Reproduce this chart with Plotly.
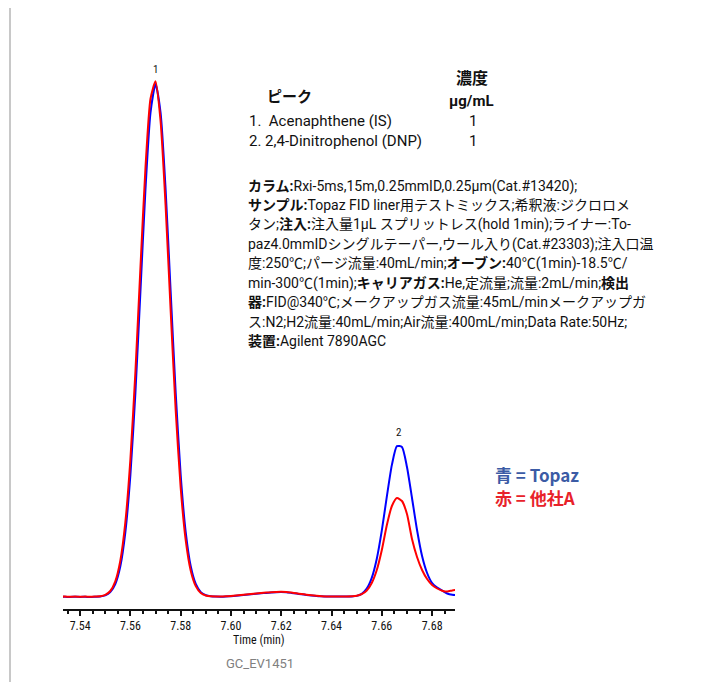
import plotly.graph_objects as go

# ---------------- data ----------------
time_min = [
    7.532, 7.534, 7.536, 7.538, 7.540, 7.542, 7.544, 7.546, 7.548, 7.550,
    7.552, 7.554, 7.556, 7.558, 7.560, 7.562, 7.564, 7.566, 7.568, 7.570,
    7.572, 7.574, 7.576, 7.578, 7.580, 7.582, 7.584, 7.586, 7.588, 7.590,
    7.592, 7.594, 7.596, 7.598, 7.600, 7.602, 7.604, 7.606, 7.608, 7.610,
    7.612, 7.614, 7.616, 7.618, 7.620, 7.622, 7.624, 7.626, 7.628, 7.630,
    7.632, 7.634, 7.636, 7.638, 7.640, 7.642, 7.644, 7.646, 7.648, 7.650,
    7.652, 7.654, 7.656, 7.658, 7.660, 7.662, 7.664, 7.666, 7.668, 7.670,
    7.672, 7.674, 7.676, 7.678, 7.680, 7.682, 7.684, 7.686, 7.688, 7.690,
]
topaz_signal = [
    0.1, 0.2, 0.0, 0.3, 0.1, 0.2, 0.0, 0.3, 0.6, 1.6,
    4.9, 13.0, 30.7, 64.9, 122.0, 204.6, 305.9, 407.7, 484.3, 513.0,
    484.3, 407.7, 305.9, 204.6, 122.0, 64.9, 30.7, 13.0, 4.9, 1.8,
    0.7, 0.4, 0.3, 0.5, 0.8, 1.2, 1.7, 2.2, 2.7, 3.2,
    3.7, 4.1, 4.5, 4.8, 4.9, 4.7, 4.1, 3.4, 2.7, 2.1,
    1.5, 1.0, 0.7, 0.5, 0.4, 0.4, 0.5, 0.4, 0.5, 1.1,
    3.2, 8.4, 19.2, 38.3, 66.6, 100.6, 132.1, 150.8, 150.0, 130.0,
    99.0, 67.0, 41.0, 24.0, 14.0, 9.5, 6.5, 3.5, 2.2, 1.8,
]
other_signal = [
    0.3, 0.4, 0.2, 0.5, 0.2, 0.4, 0.3, 0.5, 0.8, 2.1,
    6.0, 15.7, 36.3, 74.8, 137.6, 225.5, 329.5, 429.2, 498.3, 515.8,
    476.0, 391.5, 287.1, 187.6, 109.3, 56.8, 26.3, 10.9, 4.0, 1.5,
    0.7, 0.5, 0.5, 0.7, 1.0, 1.4, 1.9, 2.5, 3.0, 3.5,
    4.0, 4.4, 4.8, 5.1, 5.2, 5.0, 4.4, 3.7, 3.0, 2.3,
    1.7, 1.2, 0.8, 0.6, 0.5, 0.5, 0.6, 0.6, 0.8, 1.2,
    2.8, 6.5, 14.0, 27.0, 47.0, 72.0, 91.0, 99.0, 96.0, 83.0,
    58.0, 40.0, 27.0, 18.0, 12.0, 8.5, 6.3, 5.4, 6.6, 7.4,
]
tick_vals = [7.54, 7.56, 7.58, 7.60, 7.62, 7.64, 7.66, 7.68]
tick_text = ["7.54", "7.56", "7.58", "7.60", "7.62", "7.64", "7.66", "7.68"]
peak_labels = ["1", "2"]
peak_times = [7.5698, 7.6667]
peak_heights = [516, 153]

compounds = ["1.  Acenaphthene (IS)", "2. 2,4-Dinitrophenol (DNP)"]
concs = ["1", "1"]

cond_lines = [
    "<b>カラム:</b>Rxi-5ms,15m,0.25mmID,0.25μm(Cat.#13420);",
    "<b>サンプル:</b>Topaz FID liner用テストミックス;希釈液:ジクロロメ",
    "タン;<b>注入:</b>注入量1μL スプリットレス(hold 1min);ライナー:To-",
    "paz4.0mmIDシングルテーパー,ウール入り(Cat.#23303);注入口温",
    "度:250℃;パージ流量:40mL/min;<b>オーブン:</b>40℃(1min)-18.5℃/",
    "min-300℃(1min);<b>キャリアガス:</b>He,定流量;流量:2mL/min;<b>検出</b>",
    "<b>器:</b>FID@340℃;メークアップガス流量:45mL/minメークアップガ",
    "ス:N2;H2流量:40mL/min;Air流量:400mL/min;Data Rate:50Hz;",
    "<b>装置:</b>Agilent 7890AGC",
]

# ---------------- layout geometry ----------------
OFF = 8                      # page body margin of the html page
W, H = 704 - OFF, 682 - OFF
L, R, T, B = 63, 455, 60, 609  # plot area in window pixels
NARROW = "Roboto Condensed, Liberation Sans Narrow, Roboto, Noto Sans CJK JP, sans-serif"
TEXT = "Roboto, Noto Sans CJK JP, sans-serif"
KEY = "Noto Sans CJK JP, sans-serif"


def px(x):
    return (x - L) / (R - L)


def py(y):
    return (B - y) / (B - T)


fig = go.Figure()
fig.add_trace(go.Scatter(x=time_min, y=topaz_signal, mode="lines",
                         line=dict(color="#0000ff", width=2, shape="spline", smoothing=0.6),
                         name="Topaz", showlegend=False))
fig.add_trace(go.Scatter(x=time_min, y=other_signal, mode="lines",
                         line=dict(color="#ff0000", width=2, shape="spline", smoothing=0.6),
                         name="他社A", showlegend=False))

ann = []
# peak numbers
for lab, t, h in zip(peak_labels, peak_times, peak_heights):
    ann.append(dict(x=t, y=h, xref="x", yref="y", text=lab, showarrow=False,
                    yanchor="bottom", yshift=3, font=dict(family=NARROW, size=11, color="#111")))

# peak table
ann.append(dict(x=px(472), y=py(79), xref="paper", yref="paper", text="<b>濃度</b>",
                showarrow=False, xanchor="center", yanchor="middle",
                font=dict(family=TEXT, size=16, color="#111")))
ann.append(dict(x=px(472), y=py(101), xref="paper", yref="paper", text="<b>μg/mL</b>",
                showarrow=False, xanchor="center", yanchor="middle",
                font=dict(family=TEXT, size=15, color="#111")))
ann.append(dict(x=px(265), y=py(97), xref="paper", yref="paper", text="<b>ピーク</b>",
                showarrow=False, xanchor="left", yanchor="middle",
                font=dict(family=TEXT, size=15, color="#111")))
for i, (c, v) in enumerate(zip(compounds, concs)):
    yy = 121 + 20 * i
    ann.append(dict(x=px(247), y=py(yy), xref="paper", yref="paper", text=c,
                    showarrow=False, xanchor="left", yanchor="middle",
                    font=dict(family=TEXT, size=15, color="#111")))
    ann.append(dict(x=px(473), y=py(yy), xref="paper", yref="paper", text=v,
                    showarrow=False, xanchor="center", yanchor="middle",
                    font=dict(family=TEXT, size=15, color="#111")))

# conditions
for i, line in enumerate(cond_lines):
    ann.append(dict(x=px(246), y=py(186 + 19.4 * i), xref="paper", yref="paper", text=line,
                    showarrow=False, xanchor="left", yanchor="middle",
                    font=dict(family=TEXT, size=14, color="#111")))

# colour key
ann.append(dict(x=px(493), y=py(474), xref="paper", yref="paper", text="<b>青 = Topaz</b>",
                showarrow=False, xanchor="left", yanchor="middle",
                font=dict(family=KEY, size=17, color="#3b5ba5")))
ann.append(dict(x=px(493), y=py(497), xref="paper", yref="paper", text="<b>赤 = 他社A</b>",
                showarrow=False, xanchor="left", yanchor="middle",
                font=dict(family=KEY, size=17, color="#e8222a")))

# axis title & figure id
ann.append(dict(x=px(259), y=py(640), xref="paper", yref="paper", text="Time (min)",
                showarrow=False, xanchor="center", yanchor="middle",
                font=dict(family=NARROW, size=12, color="#111")))
ann.append(dict(x=px(260), y=py(663), xref="paper", yref="paper", text="GC_EV1451",
                showarrow=False, xanchor="center", yanchor="middle",
                font=dict(family=TEXT, size=13, color="#808080")))

# cut-off heading at the top edge
ann.append(dict(x=px(25), y=py(-6), xref="paper", yref="paper",
                text="(ライナーの不活性度の重要性を示す)",
                showarrow=False, xanchor="left", yanchor="middle",
                font=dict(family=KEY, size=12, color="#111")))

fig.update_layout(
    width=W, height=H,
    margin=dict(l=L - OFF, r=(W + OFF) - R, t=T - OFF, b=(H + OFF) - B, pad=0),
    paper_bgcolor="white", plot_bgcolor="white",
    annotations=ann,
    shapes=[dict(type="line", xref="paper", yref="paper",
                 x0=px(10), x1=px(10), y0=py(H + OFF + 5), y1=py(OFF - 2),
                 line=dict(color="#c8c8c8", width=2))],
    xaxis=dict(range=[7.5332, 7.6891], showgrid=False, zeroline=False,
               showline=True, linecolor="#111", linewidth=2,
               ticks="outside", ticklen=5, tickwidth=1.5, tickcolor="#111",
               tickvals=tick_vals, ticktext=tick_text,
               tickfont=dict(family=NARROW, size=12, color="#111"),
               minor=dict(dtick=0.005, tick0=7.54, ticks="outside", ticklen=3,
                          tickwidth=1.5, tickcolor="#111", showgrid=False)),
    yaxis=dict(range=[-12, 537], visible=False, showgrid=False, zeroline=False),
)

fig.write_html("out.html")
